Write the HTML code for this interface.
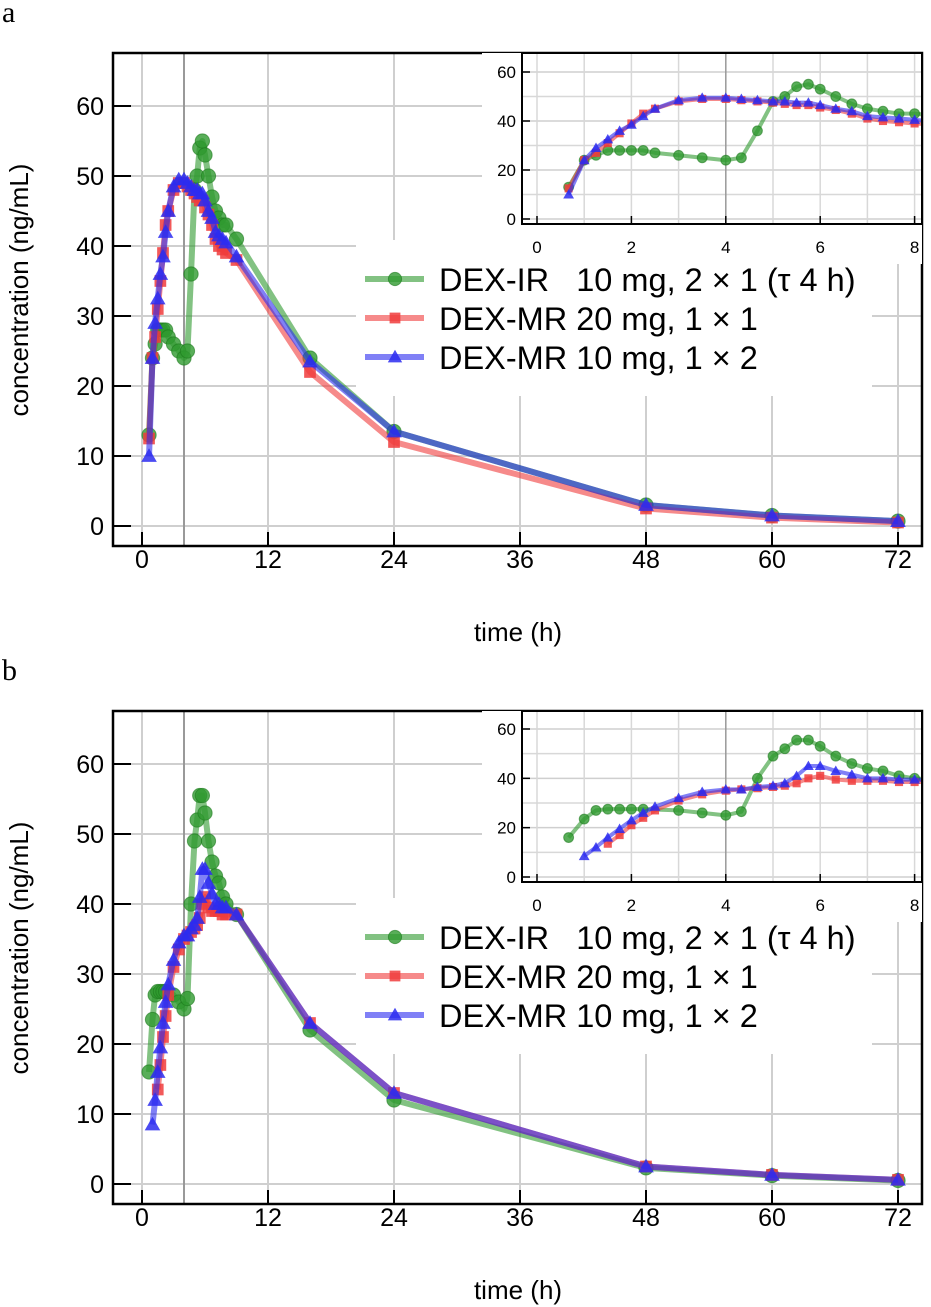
<!DOCTYPE html>
<html><head><meta charset="utf-8"><style>
html,body{margin:0;padding:0;background:#fff;}
svg{display:block;font-family:"Liberation Sans",sans-serif;}
text{white-space:pre;}
</style></head><body>
<svg id="chart" width="931" height="1307" viewBox="0 0 931 1307"></svg>
<script>
const timesA = [0.67,1,1.25,1.5,1.75,2,2.25,2.5,3,3.5,4,4.33,4.67,5,5.25,5.5,5.75,6,6.33,6.67,7,7.33,7.67,8,9,16,24,48,60,72];
const irA   = [13,24,26,28,28,28,28,27,26,25,24,25,36,48,50,54,55,53,50,47,45,44,43,43,41,24,13.5,3,1.5,0.7];
const mr20A = [12.5,24,27,31,35,39,43,45,48,49,49,48.5,48,47.5,47,46.5,46.5,45.5,44.5,43,41,40,39.5,39,38,22,12,2.5,1.2,0.5];
const mr10A = [10,24,29,32.5,36,38.5,42,45,48.5,49.5,49.5,49,48.5,48,48,47.5,47.5,46.5,45,44,42,41.5,41,40.5,38.5,23.5,13.5,3,1.5,0.7];
const timesBIR = [0.67,1,1.25,1.5,1.75,2,2.25,3,3.5,4,4.33,4.67,5,5.25,5.5,5.75,6,6.33,6.67,7,7.33,7.67,8,9,16,24,48,60,72];
const irB   = [16,23.5,27,27.5,27.5,27.5,27.5,27,26,25,26.5,40,49,52,55.5,55.5,53,49,46,44,43,41,40,38.5,22,12,2.3,1.2,0.5];
const timesBMR20 = [1.5,1.75,2,2.25,2.5,3,3.5,4,4.33,4.67,5,5.25,5.5,5.75,6,6.33,6.67,7,7.33,7.67,8,9,16,24,48,60,72];
const mr20B = [13.5,17,21,24,27,31,33.5,35,35.5,36,36.5,37,38,40,41,39.5,39,39,39,38.5,38.5,38.5,23,13,2.5,1.3,0.6];
const timesBMR10 = [1,1.25,1.5,1.75,2,2.25,2.5,3,3.5,4,4.33,4.67,5,5.25,5.5,5.75,6,6.33,6.67,7,7.33,7.67,8,9,16,24,48,60,72];
const mr10B = [8.5,12,16,19.5,23,26,28.5,32,34.5,35.5,35.5,36.5,37,38,41,45,45,43,41.5,40,40,39.5,39.5,38.5,23,13,2.5,1.3,0.6];
const xTicksMain = [0,12,24,36,48,60,72];
const yTicksMain = [0,10,20,30,40,50,60];
const xTicksInset = [0,2,4,6,8];
const yTicksInset = [0,20,40,60];
const legendLabels = ["DEX-IR   10 mg, 2 × 1 (τ 4 h)","DEX-MR 20 mg, 1 × 1","DEX-MR 10 mg, 1 × 2"];

const NS="http://www.w3.org/2000/svg";
const svg=document.getElementById('chart');
const COLORS=["#2f9a2f","#f03c3c","#2b2bf0"];
function mk(tag,attrs,parent){const e=document.createElementNS(NS,tag);for(const k in attrs)e.setAttribute(k,attrs[k]);(parent||svg).appendChild(e);return e;}
function marker(g,type,x,y,s,color){
  let e;
  if(type===0){e=mk('circle',{cx:x,cy:y,r:s*0.55,fill:color,'fill-opacity':0.8,stroke:'#1d7a1d','stroke-opacity':0.6,'stroke-width':1},g);}
  else if(type===1){e=mk('rect',{x:x-s*0.45,y:y-s*0.45,width:s*0.9,height:s*0.9,fill:color,'fill-opacity':0.85},g);}
  else {e=mk('polygon',{points:`${x},${y-s*0.6} ${x-s*0.6},${y+s*0.45} ${x+s*0.6},${y+s*0.45}`,fill:color,'fill-opacity':0.85},g);}
  
  
}
function series(g,xs,ys,sx,sy,type,lw,ms,name){
  const sg=mk('g',{},g);
  
  
  const pts=xs.map((t,i)=>sx(t)+','+sy(ys[i])).join(' ');
  mk('polyline',{points:pts,fill:'none',stroke:COLORS[type],'stroke-width':lw,'stroke-opacity':0.6,'stroke-linejoin':'round'},sg);
  xs.forEach((t,i)=>marker(sg,type,sx(t),sy(ys[i]),ms,COLORS[type]));
}

function panel(off,letter,data){
  const g=mk('g',{});
  
  
  const L=113,R=922,T=53+off,B=546+off;
  const sx=t=>142+t*10.5;
  const sy=v=>526+off-v*7;
  const lt=mk('text',{x:2,y:22+off,'font-size':30,'font-family':'Liberation Serif, serif',fill:'#000'},g);
  lt.textContent=letter;
  
  
  const grid=mk('g',{},g);
  
  
  yTicksMain.forEach(v=>mk('line',{x1:L,x2:R,y1:sy(v),y2:sy(v),stroke:'#cfcfcf','stroke-width':2},grid));
  xTicksMain.forEach(t=>mk('line',{x1:sx(t),x2:sx(t),y1:T,y2:B,stroke:'#cfcfcf','stroke-width':2},grid));
  mk('line',{x1:sx(4),x2:sx(4),y1:T,y2:B,stroke:'#999','stroke-width':2},grid);
  const lg=mk('g',{},g);
  
  
  mk('rect',{x:356,y:off+240,width:516,height:156,fill:'#fff'},lg);
  const ly=[279,318,357];
  legendLabels.forEach((s,i)=>{
    const eg=mk('g',{},lg);
    
    
    mk('line',{x1:365,x2:424,y1:ly[i]+off,y2:ly[i]+off,stroke:COLORS[i],'stroke-width':6,'stroke-opacity':0.6},eg);
    marker(eg,i,395,ly[i]+off,12,COLORS[i]);
    const tx=mk('text',{x:439,y:ly[i]+off+12,'font-size':32.5,fill:'#000'},eg);
    tx.textContent=s;
  });
  data.forEach((d,i)=>series(g,d[0],d[1],sx,sy,i,6,13,['series-ir','series-mr20','series-mr10'][i]));
  mk('rect',{x:L,y:T,width:R-L,height:B-T,fill:'none',stroke:'#000','stroke-width':2.5},g);
  yTicksMain.forEach(v=>{
    mk('line',{x1:L,x2:L+18,y1:sy(v),y2:sy(v),stroke:'#000','stroke-width':2},g);
    const t=mk('text',{x:L-9,y:sy(v)+9,'font-size':25,'text-anchor':'end',fill:'#000'},g);
    t.textContent=v;
    
    
  });
  xTicksMain.forEach(v=>{
    mk('line',{x1:sx(v),x2:sx(v),y1:B,y2:B-14,stroke:'#000','stroke-width':2},g);
    const t=mk('text',{x:sx(v),y:568+off,'font-size':25,'text-anchor':'middle',fill:'#000'},g);
    t.textContent=v;
    
    
  });
  const xl=mk('text',{x:518,y:641+off,'font-size':26,'text-anchor':'middle',fill:'#000'},g);
  xl.textContent='time (h)';
  
  
  const yl=mk('text',{x:0,y:0,'font-size':26,'text-anchor':'middle',fill:'#000',transform:`translate(28,${290+off}) rotate(-90)`},g);
  yl.textContent='concentration (ng/mL)';
  
  
  const ig=mk('g',{},g);
  
  
  const iL=522,iR=922,iT=T,iB=224+off;
  const isx=t=>537+t*47.2;
  const y0=off===0?219:877, y60=off===0?72:729;
  const isy=v=>y0-(v*(y0-y60)/60);
  mk('rect',{x:iL-40,y:iT,width:iR-iL+40,height:iB-iT+40,fill:'#fff'},ig);
  [10,30,50].forEach(v=>mk('line',{x1:iL,x2:iR,y1:isy(v),y2:isy(v),stroke:'#d8d8d8','stroke-width':1.5},ig));
  yTicksInset.forEach(v=>mk('line',{x1:iL,x2:iR,y1:isy(v),y2:isy(v),stroke:'#cfcfcf','stroke-width':1.5},ig));
  [0,1,2,3,5,6,7,8].forEach(t=>mk('line',{x1:isx(t),x2:isx(t),y1:iT,y2:iB,stroke:'#d8d8d8','stroke-width':1.5},ig));
  mk('line',{x1:isx(4),x2:isx(4),y1:iT,y2:iB,stroke:'#999','stroke-width':1.5},ig);
  const cid='clip'+letter;
  const cp=mk('clipPath',{id:cid},ig);
  mk('rect',{x:iL,y:iT,width:iR-iL,height:iB-iT},cp);
  const cg=mk('g',{'clip-path':`url(#${cid})`},ig);
  data.forEach((d,i)=>{
    const xs=[],ys=[];
    d[0].forEach((t,k)=>{if(t<=9){xs.push(t);ys.push(d[1][k]);}});
    series(cg,xs,ys,isx,isy,i,4,9,['inset-ir','inset-mr20','inset-mr10'][i]);
  });
  mk('rect',{x:iL,y:iT,width:iR-iL,height:iB-iT,fill:'none',stroke:'#000','stroke-width':2},ig);
  yTicksInset.forEach(v=>{
    mk('line',{x1:iL,x2:iL+8,y1:isy(v),y2:isy(v),stroke:'#000','stroke-width':1.5},ig);
    const t=mk('text',{x:iL-6,y:isy(v)+6,'font-size':17,'text-anchor':'end',fill:'#000'},ig);
    t.textContent=v;
  });
  xTicksInset.forEach(v=>{
    mk('line',{x1:isx(v),x2:isx(v),y1:iB,y2:iB-8,stroke:'#000','stroke-width':1.5},ig);
    const t=mk('text',{x:isx(v),y:iB+29,'font-size':17,'text-anchor':'middle',fill:'#000'},ig);
    t.textContent=v;
  });
}
panel(0,'a',[[timesA,irA],[timesA,mr20A],[timesA,mr10A]]);
panel(658,'b',[[timesBIR,irB],[timesBMR20,mr20B],[timesBMR10,mr10B]]);
</script>
</body></html>
